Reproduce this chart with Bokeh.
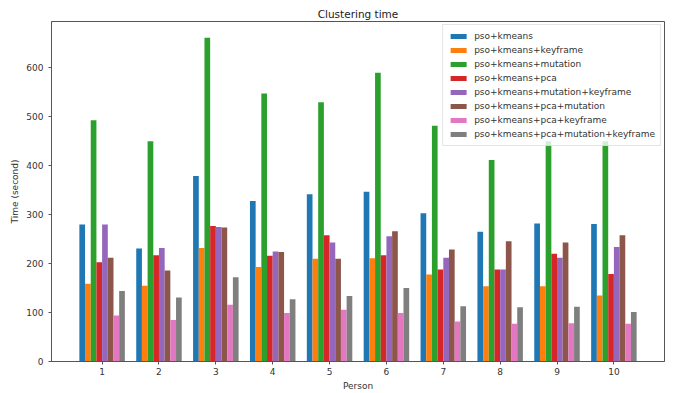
from bokeh.plotting import figure
from bokeh.models import ColumnDataSource, Range1d, FixedTicker
from bokeh.transform import dodge
from bokeh.embed import file_html
from bokeh.resources import INLINE

persons = [1, 2, 3, 4, 5, 6, 7, 8, 9, 10]
series_names = [
    "pso+kmeans",
    "pso+kmeans+keyframe",
    "pso+kmeans+mutation",
    "pso+kmeans+pca",
    "pso+kmeans+mutation+keyframe",
    "pso+kmeans+pca+mutation",
    "pso+kmeans+pca+keyframe",
    "pso+kmeans+pca+mutation+keyframe",
]
pso_kmeans = [280, 231, 379, 328, 342, 347, 303, 265, 282, 281]
pso_kmeans_keyframe = [159, 155, 232, 193, 210, 211, 178, 154, 154, 135]
pso_kmeans_mutation = [493, 450, 662, 548, 530, 590, 482, 412, 450, 450]
pso_kmeans_pca = [203, 217, 277, 216, 258, 217, 188, 188, 220, 179]
pso_kmeans_mutation_keyframe = [280, 232, 275, 225, 243, 256, 212, 188, 212, 234]
pso_kmeans_pca_mutation = [212, 186, 274, 224, 210, 266, 229, 246, 243, 258]
pso_kmeans_pca_keyframe = [94, 85, 116, 99, 106, 99, 82, 77, 78, 77]
pso_kmeans_pca_mutation_keyframe = [144, 131, 172, 127, 134, 150, 113, 111, 112, 101]

series_values = [
    pso_kmeans, pso_kmeans_keyframe, pso_kmeans_mutation, pso_kmeans_pca,
    pso_kmeans_mutation_keyframe, pso_kmeans_pca_mutation,
    pso_kmeans_pca_keyframe, pso_kmeans_pca_mutation_keyframe,
]
colors = ["#1f77b4", "#ff7f0e", "#2ca02c", "#d62728",
          "#9467bd", "#8c564b", "#e377c2", "#7f7f7f"]
y_ticks = [0, 100, 200, 300, 400, 500, 600]

data = {"x": persons}
for i, vals in enumerate(series_values):
    data[f"s{i}"] = vals
source = ColumnDataSource(data)

p = figure(width=674, height=393, output_backend="svg", toolbar_location=None,
           title="Clustering time",
           x_range=Range1d(0.11, 10.89), y_range=Range1d(0, 695))

bw = 0.1
for i, name in enumerate(series_names):
    p.vbar(x=dodge("x", (i - 3.5) * bw, range=p.x_range), top=f"s{i}", width=bw,
           source=source, color=colors[i], line_color=None, legend_label=name)

font = "DejaVu Sans"
p.title.text_font = font
p.title.text_font_size = "10.5px"
p.title.text_font_style = "normal"
p.title.align = "center"
p.title.standoff = 4
p.title.text_color = "#222222"

p.xgrid.visible = False
p.ygrid.visible = False
p.outline_line_color = "#555555"
p.outline_line_width = 1

for ax in (p.xaxis[0], p.yaxis[0]):
    ax.axis_line_color = "#555555"
    ax.major_tick_line_color = "#555555"
    ax.minor_tick_line_color = None
    ax.major_tick_in = 0
    ax.major_tick_out = 3
    ax.major_label_text_font = font
    ax.major_label_text_font_size = "9px"
    ax.major_label_text_color = "#333333"
    ax.axis_label_text_font = font
    ax.axis_label_text_font_size = "9px"
    ax.axis_label_text_font_style = "normal"
    ax.axis_label_text_color = "#333333"
    ax.axis_label_standoff = 3

p.yaxis.major_label_standoff = 5
p.xaxis.major_label_standoff = 3
p.xaxis.ticker = FixedTicker(ticks=persons)
p.yaxis.ticker = FixedTicker(ticks=y_ticks)
p.xaxis.axis_label = "Person"
p.yaxis.axis_label = "Time (second)"

p.min_border_left = 51
p.min_border_right = 10
p.min_border_top = 21
p.min_border_bottom = 32

lg = p.legend[0]
lg.location = "top_right"
lg.label_text_font = font
lg.label_text_font_size = "9px"
lg.label_text_color = "#333333"
lg.glyph_width = 20
lg.glyph_height = 6
lg.label_height = 12
lg.label_standoff = 6
lg.spacing = 2
lg.padding = 5
lg.margin = 3
lg.border_line_color = "#cccccc"
lg.background_fill_alpha = 0.8

open("out.html", "w").write(file_html(p, INLINE))
